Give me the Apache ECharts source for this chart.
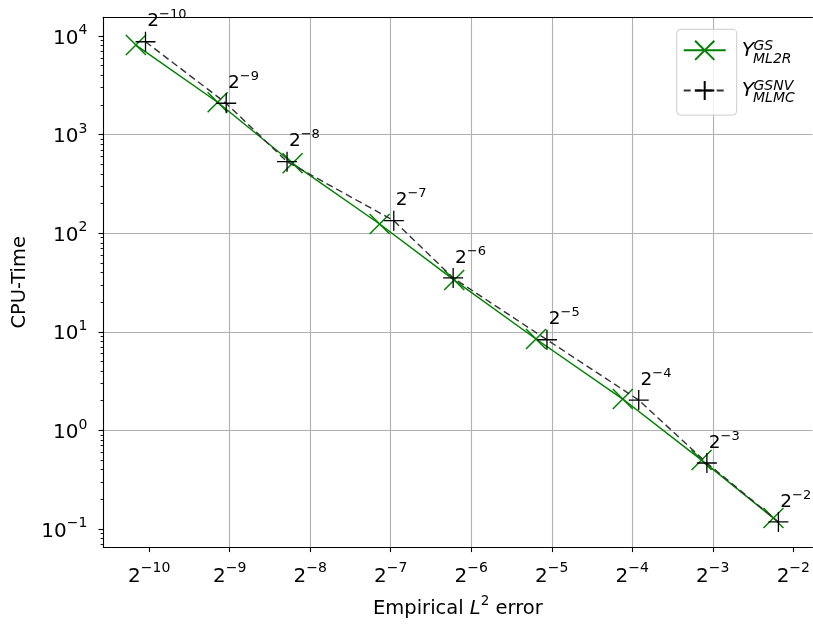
<!DOCTYPE html>
<html>
<head>
<meta charset="utf-8">
<script src="https://cdn.jsdelivr.net/npm/echarts@6/dist/echarts.min.js"></script>
<style>
  html, body { margin: 0; padding: 0; background: #fff; }
  #chart { width: 813px; height: 626px; }
</style>
</head>
<body>
<div id="chart"></div>
<script>
  // level exponents (annotations 2^-10 ... 2^-2)
  var levels = [-10, -9, -8, -7, -6, -5, -4, -3, -2];

  // Y^GS_ML2R : empirical L2 error / CPU time
  var errML2R = [0.000871, 0.001760, 0.003356, 0.007100, 0.01349, 0.02728, 0.05759, 0.1135, 0.2107];
  var timeML2R = [8100, 2130, 512, 124, 33.5, 8.45, 2.08, 0.50, 0.129];

  // Y^GSNV_MLMC
  var errMLMC = [0.000946, 0.001895, 0.003200, 0.008020, 0.01337, 0.02998, 0.06606, 0.1188, 0.2199];
  var timeMLMC = [8750, 2080, 531, 134, 35.2, 8.3, 2.03, 0.467, 0.118];

  // tick exponents
  var xTicks = [-10, -9, -8, -7, -6, -5, -4, -3, -2];   // powers of 2
  var yTicks = [-1, 0, 1, 2, 3, 4];                     // powers of 10

  var xMin = -10.570, xMax = -1.763;
  var yMin = -1.186, yMax = 4.190;

  var yMinor = [];
  for (var k = -2; k <= 4; k++) {
    for (var m = 2; m <= 9; m++) {
      var v = k + Math.log10(m);
      if (v > yMin && v < yMax) yMinor.push(v);
    }
  }

  function toLog(errs, times) {
    return errs.map(function (e, i) { return [Math.log2(e), Math.log10(times[i])]; });
  }

  function sup(n) {
    return n < 0 ? '\u2212' + (-n) : '' + n;
  }

  var FONT = 'DejaVu Sans';
  var crossX = 'path://M0,0L20,20M20,0L0,20';
  var plus = 'path://M10,0L10,20M0,10L20,10';

  var tickRich = {
    b: { fontSize: 20, fontFamily: FONT, color: '#000', verticalAlign: 'bottom' },
    s: { fontSize: 14, fontFamily: FONT, color: '#000', verticalAlign: 'bottom', padding: [0, 0, 11, 0] }
  };

  var myChart = echarts.init(document.getElementById('chart'));
  myChart.setOption({
    animation: false,
    backgroundColor: '#fff',
    grid: { left: 103.3, top: 17.3, right: -1, bottom: 78.7 },
    xAxis: [{
      type: 'value',
      min: xMin,
      max: xMax,
      name: '{n|Empirical }{i|L}{s|2}{n| error}',
      nameLocation: 'middle',
      nameGap: 47,
      nameTextStyle: {
        rich: {
          n: { fontSize: 19.5, fontFamily: FONT, color: '#000', verticalAlign: 'bottom' },
          i: { fontSize: 19.5, fontFamily: FONT, fontStyle: 'italic', color: '#000', verticalAlign: 'bottom' },
          s: { fontSize: 13.5, fontFamily: FONT, color: '#000', verticalAlign: 'bottom', padding: [0, 0, 11, 0] }
        }
      },
      axisLine: { show: true, onZero: false, lineStyle: { color: '#000', width: 1.1 } },
      axisTick: { show: true, length: 4.8, customValues: xTicks, lineStyle: { color: '#000', width: 1.1 } },
      axisLabel: {
        customValues: xTicks,
        margin: 14,
        formatter: function (v) { return '{b|2}{s|' + sup(Math.round(v)) + '}'; },
        rich: tickRich
      },
      splitLine: { show: true, showMinLine: false, showMaxLine: false, lineStyle: { color: '#b0b0b0', width: 1.1 } }
    }, {
      type: 'value',
      position: 'top',
      min: xMin,
      max: xMax,
      axisLine: { show: true, onZero: false, lineStyle: { color: '#000', width: 1.1 } },
      axisTick: { show: false },
      axisLabel: { show: false },
      splitLine: { show: false }
    }],
    yAxis: [{
      type: 'value',
      min: yMin,
      max: yMax,
      name: 'CPU-Time',
      nameLocation: 'middle',
      nameGap: 72,
      nameTextStyle: { fontSize: 19.5, fontFamily: FONT, color: '#000' },
      axisLine: { show: true, onZero: false, lineStyle: { color: '#000', width: 1.1 } },
      axisTick: { show: true, length: 4.8, customValues: yTicks, lineStyle: { color: '#000', width: 1.1 } },
      axisLabel: {
        customValues: yTicks,
        margin: 16,
        formatter: function (v) { return '{b|10}{s|' + sup(Math.round(v)) + '}'; },
        rich: tickRich
      },
      splitLine: { show: true, showMinLine: false, showMaxLine: false, lineStyle: { color: '#b0b0b0', width: 1.1 } }
    }, {
      type: 'value',
      position: 'left',
      min: yMin,
      max: yMax,
      axisLine: { show: false },
      axisTick: { show: true, length: 2.7, customValues: yMinor, lineStyle: { color: '#000', width: 0.9 } },
      axisLabel: { show: false },
      splitLine: { show: false }
    }],
    legend: {
      orient: 'vertical',
      left: 676.7,
      top: 29.3,
      padding: [10.4, 6, 14, 6],
      itemWidth: 42,
      itemHeight: 24,
      itemGap: 19,
      backgroundColor: 'rgba(255,255,255,0.8)',
      borderColor: '#cccccc',
      borderWidth: 1,
      borderRadius: 4,
      data: ['ML2R', 'MLMC'],
      formatter: function () { return '{w|}'; },
      textStyle: { rich: { w: { width: 62, height: 10 } } }
    },
    graphic: [
      { type: 'text', x: 741.7, y: 51, z: 100, style: { text: 'Y', fontSize: 20, fontFamily: FONT, fontStyle: 'italic', fill: '#000', verticalAlign: 'middle' } },
      { type: 'text', x: 753.5, y: 46, z: 100, style: { text: 'GS', fontSize: 14, fontFamily: FONT, fontStyle: 'italic', fill: '#000', verticalAlign: 'middle' } },
      { type: 'text', x: 753, y: 59, z: 100, style: { text: 'ML2R', fontSize: 14, fontFamily: FONT, fontStyle: 'italic', fill: '#000', verticalAlign: 'middle' } },
      { type: 'text', x: 741.7, y: 91, z: 100, style: { text: 'Y', fontSize: 20, fontFamily: FONT, fontStyle: 'italic', fill: '#000', verticalAlign: 'middle' } },
      { type: 'text', x: 753.5, y: 86, z: 100, style: { text: 'GSNV', fontSize: 14, fontFamily: FONT, fontStyle: 'italic', fill: '#000', verticalAlign: 'middle' } },
      { type: 'text', x: 753, y: 98.5, z: 100, style: { text: 'MLMC', fontSize: 14, fontFamily: FONT, fontStyle: 'italic', fill: '#000', verticalAlign: 'middle' } }
    ],
    series: [{
      name: 'ML2R',
      type: 'line',
      data: toLog(errML2R, timeML2R),
      symbol: crossX,
      symbolSize: 20,
      showAllSymbol: true,
      lineStyle: { color: '#008000', width: 1.5 },
      itemStyle: { color: '#008000', borderColor: '#008000', borderWidth: 1.5 },
      z: 3
    }, {
      name: 'MLMC',
      type: 'line',
      data: toLog(errMLMC, timeMLMC),
      symbol: plus,
      symbolSize: 20,
      showAllSymbol: true,
      lineStyle: { color: '#333', width: 1.4, type: [7, 4] },
      itemStyle: { color: '#000', borderColor: '#000', borderWidth: 1.3 },
      label: {
        show: true,
        position: [12.5, 0],
        align: 'left',
        verticalAlign: 'bottom',
        formatter: function (p) { return '{b|2}{s|' + sup(levels[p.dataIndex]) + '}'; },
        rich: {
          b: { fontSize: 18.5, fontFamily: FONT, color: '#000', verticalAlign: 'bottom' },
          s: { fontSize: 13, fontFamily: FONT, color: '#000', verticalAlign: 'bottom', padding: [0, 0, 9.5, 0] }
        }
      },
      z: 4
    }]
  });
</script>
</body>
</html>
